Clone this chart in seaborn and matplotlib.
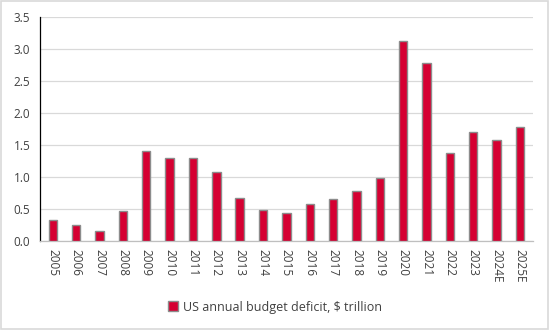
import matplotlib
matplotlib.use("Agg")
import matplotlib.pyplot as plt
import seaborn as sns
import pandas as pd

years = ["2005", "2006", "2007", "2008", "2009", "2010", "2011", "2012", "2013", "2014",
         "2015", "2016", "2017", "2018", "2019", "2020", "2021", "2022", "2023", "2024E", "2025E"]
deficit = [0.32, 0.25, 0.16, 0.46, 1.41, 1.29, 1.30, 1.07, 0.67, 0.48,
           0.44, 0.58, 0.66, 0.78, 0.98, 3.13, 2.78, 1.38, 1.70, 1.58, 1.78]
series_label = "US annual budget deficit, $ trillion"
yticks = [0.0, 0.5, 1.0, 1.5, 2.0, 2.5, 3.0, 3.5]

sns.set_style("white")
plt.rcParams['font.family'] = ['Open Sans', 'DejaVu Sans']

df = pd.DataFrame({"year": years, "value": deficit, "series": series_label})

fig = plt.figure(figsize=(5.5, 3.3), dpi=100)
ax = fig.add_axes([0.0727, 0.27, 0.896, 0.678])

sns.barplot(data=df, x="year", y="value", hue="series", palette=["#d50032"], saturation=1,
            width=0.36, edgecolor="#8c8c8c", linewidth=1.0, ax=ax, zorder=3)

ax.set_ylim(0, 3.5)
ax.set_yticks(yticks)
ax.set_yticklabels([f"{t:.1f}" for t in yticks], fontsize=8.5, color="#404040")
ax.set_xticks(range(len(years)))
ax.set_xticklabels(years, rotation=-90, fontsize=8.5, color="#404040")
ax.set_xlim(-0.55, len(years) - 0.45)
ax.set_xlabel("")
ax.set_ylabel("")
ax.grid(axis="y", color="#d9d9d9", linewidth=0.9, zorder=0)
for s in ["top", "right"]:
    ax.spines[s].set_visible(False)
ax.spines["left"].set_color("#000000")
ax.spines["left"].set_linewidth(0.9)
ax.spines["bottom"].set_color("#bfbfbf")
ax.spines["bottom"].set_linewidth(0.9)
ax.tick_params(axis="y", length=3, color="#000000", pad=4)
ax.tick_params(axis="x", length=0, pad=6)

leg = ax.legend(loc="center", frameon=False,
                fontsize=9, handlelength=0.8, handleheight=0.8, handletextpad=0.4)
leg.set_bbox_to_anchor((0.5, 23 / 330), transform=fig.transFigure)
for t in leg.get_texts():
    t.set_color("#404040")

fig.patches.append(plt.Rectangle((0.002, 0.003), 0.995, 0.994, transform=fig.transFigure,
                                 fill=False, edgecolor="#d9d9d9", linewidth=1.2))

fig.savefig("out.png", dpi=100, facecolor="white")
